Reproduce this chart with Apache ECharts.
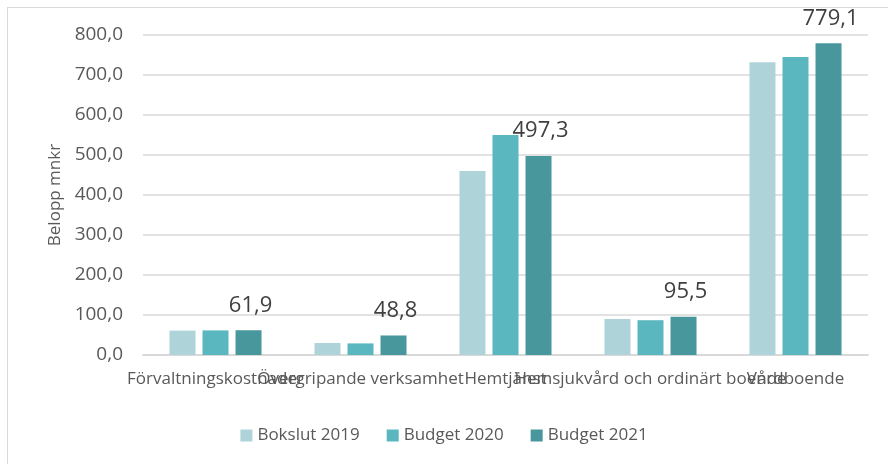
<!DOCTYPE html>
<html>
<head>
<meta charset="utf-8">
<script src="https://cdn.jsdelivr.net/npm/echarts@6/dist/echarts.min.js"></script>
<style>
  html, body { margin: 0; padding: 0; background: #fff; }
  #frame { position: absolute; left: 7px; top: 7px; width: 900px; height: 480px; border: 1px solid #d9d9d9; box-sizing: border-box; }
  #chart { position: absolute; left: 0; top: 0; width: 888px; height: 464px; }
</style>
</head>
<body>
<div id="frame"></div>
<div id="chart"></div>
<script>
const categories = ['Förvaltningskostnader', 'Övergripande verksamhet', 'Hemtjänst', 'Hemsjukvård och ordinärt boende', 'Vårdboende'];
const bokslut2019 = [61.0, 30.0, 460.0, 90.0, 732.0];
const budget2020 = [61.5, 29.0, 550.0, 87.0, 745.0];
const budget2021 = [61.9, 48.8, 497.3, 95.5, 779.1];
const yTicks = [0, 100, 200, 300, 400, 500, 600, 700, 800];

const fontFamily = '"Open Sans", "Noto Sans", sans-serif';
const textColor = '#595959';

function formatNumber(value) {
  return value.toFixed(1).replace('.', ',');
}

const chart = echarts.init(document.getElementById('chart'), null, { renderer: 'canvas' });

chart.setOption({
  animation: false,
  color: ['#aed3d9', '#5ab7c0', '#47979c'],
  textStyle: { fontFamily },
  grid: { left: 143, right: 20, top: 35, bottom: 109 },
  legend: {
    bottom: 15,
    left: 'center',
    itemWidth: 12,
    itemHeight: 12,
    itemGap: 27,
    icon: 'rect',
    textStyle: { color: textColor, fontSize: 17, fontFamily },
    data: ['Bokslut 2019', 'Budget 2020', 'Budget 2021'],
  },
  xAxis: {
    type: 'category',
    data: categories,
    axisLine: { lineStyle: { color: '#d9d9d9', width: 2 } },
    axisTick: { show: false },
    axisLabel: { color: textColor, fontSize: 17, interval: 0, margin: 16, fontFamily },
  },
  yAxis: {
    type: 'value',
    min: yTicks[0],
    max: yTicks[yTicks.length - 1],
    interval: 100,
    name: 'Belopp mnkr',
    nameLocation: 'middle',
    nameGap: 77,
    nameRotate: 90,
    nameTextStyle: { color: textColor, fontSize: 17, fontFamily },
    axisLine: { show: false },
    axisTick: { show: false },
    splitLine: { lineStyle: { color: '#d9d9d9', width: 1.5 } },
    axisLabel: { color: textColor, fontSize: 19, margin: 20, fontFamily, formatter: (v) => formatNumber(v) },
  },
  series: [
    { name: 'Bokslut 2019', type: 'bar', data: bokslut2019, barWidth: 26, barGap: '27%' },
    { name: 'Budget 2020', type: 'bar', data: budget2020, barWidth: 26, barGap: '27%' },
    {
      name: 'Budget 2021', type: 'bar', data: budget2021, barWidth: 26, barGap: '27%',
      label: {
        show: true,
        position: 'top',
        distance: 14,
        offset: [2, 0],
        color: '#404040',
        fontSize: 22,
        fontFamily,
        formatter: (p) => formatNumber(p.value),
      },
    },
  ],
});
</script>
</body>
</html>
